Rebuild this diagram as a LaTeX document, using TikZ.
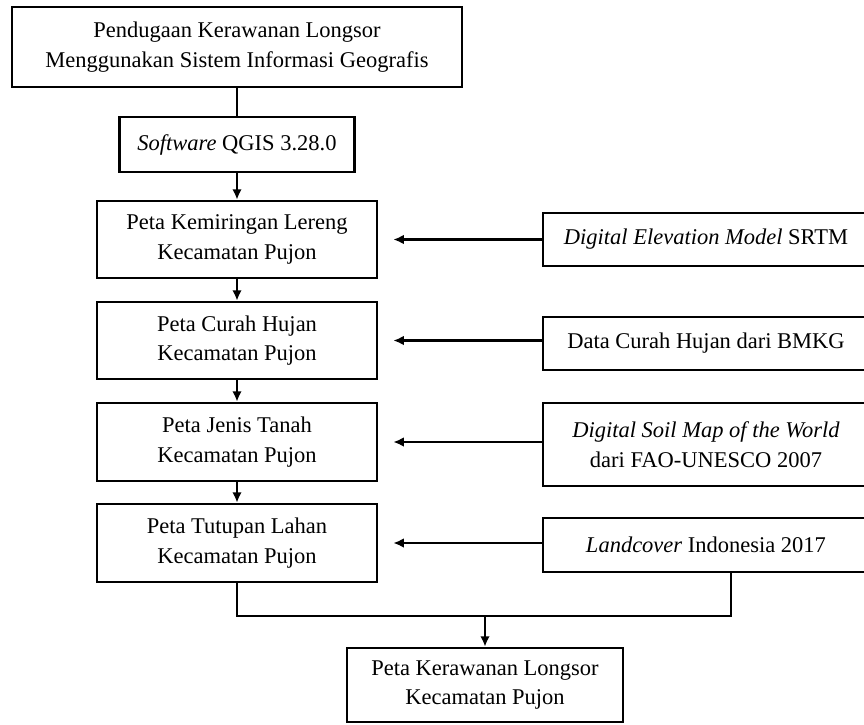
\documentclass[tikz,border=0pt]{standalone}
\usepackage{fontspec}
\setmainfont{Liberation Serif}
\usetikzlibrary{calc, positioning, arrows.meta}

\begin{document}
\begin{tikzpicture}[
        x=0.025cm, y=-0.025cm,
        kotak/.style = {rectangle, draw, line width=1.9pt, align=center, inner sep=0pt, font=\fontsize{16}{21}\selectfont},
        kiri/.style  = {kotak, minimum width=7cm},
        kanan/.style = {kotak, minimum width=8.15cm, minimum height=1.33cm},
        panah/.style = {line width=1.6pt, -{Latex[length=2.6mm, width=2.4mm]}},
        garis/.style = {line width=1.6pt}
    ]
    \useasboundingbox (0,0) rectangle (864,725);

    %Kotak kiri
    \node at(237,47)(judul)[kotak, minimum width=11.25cm, minimum height=2cm]{Pendugaan Kerawanan Longsor\\Menggunakan Sistem Informasi Geografis};
    \node at(237,144.5)(qgis)[kotak, minimum width=5.875cm, minimum height=1.375cm]{\textit{Software} QGIS 3.28.0};
    \node at(237,239.5)(lereng)[kiri, minimum height=1.925cm]{Peta Kemiringan Lereng\\Kecamatan Pujon};
    \node at(237,340.5)(hujan)[kiri, minimum height=1.925cm]{Peta Curah Hujan\\Kecamatan Pujon};
    \node at(237,442)(tanah)[kiri, minimum height=1.95cm]{Peta Jenis Tanah\\Kecamatan Pujon};
    \node at(237,543)(tutupan)[kiri, minimum height=1.95cm]{Peta Tutupan Lahan\\Kecamatan Pujon};

    %Kotak kanan
    \node at(706,239.5)(dem)[kanan]{\textit{Digital Elevation Model} SRTM};
    \node at(706,343.5)(bmkg)[kanan]{Data Curah Hujan dari BMKG};
    \node at(706,444.5)(fao)[kanan, minimum height=2.075cm]{\textit{Digital Soil Map of the World}\\dari FAO-UNESCO 2007};
    \node at(706,545)(landcover)[kanan, minimum height=1.35cm]{\textit{Landcover} Indonesia 2017};

    %Hasil
    \node at(485,685)(hasil)[kotak, minimum width=6.9cm, minimum height=1.85cm]{Peta Kerawanan Longsor\\Kecamatan Pujon};

    %Panah
    \draw[garis] (judul.south)  -- (qgis.north);
    \draw[panah] (qgis.south)   -- (lereng.north);
    \draw[panah] (lereng.south) -- (hujan.north);
    \draw[panah] (hujan.south)  -- (tanah.north);
    \draw[panah] (tanah.south)  -- (tutupan.north);

    \draw[panah] (dem.west |- lereng.east)        -- ($(lereng.east)+(15,0)$);
    \draw[panah] (bmkg.west |- hujan.east)        -- ($(hujan.east)+(15,0)$);
    \draw[panah] (fao.west |- tanah.east)         -- ($(tanah.east)+(15,0)$);
    \draw[panah] (landcover.west |- tutupan.east) -- ($(tutupan.east)+(15,0)$);

    %Gabung
    \coordinate (gabung) at (485,616);
    \draw[garis] (tutupan.south) |- (gabung) -| ($(landcover.south)+(25,0)$);
    \draw[panah] (gabung) -- (hasil.north);

\end{tikzpicture}
\end{document}
